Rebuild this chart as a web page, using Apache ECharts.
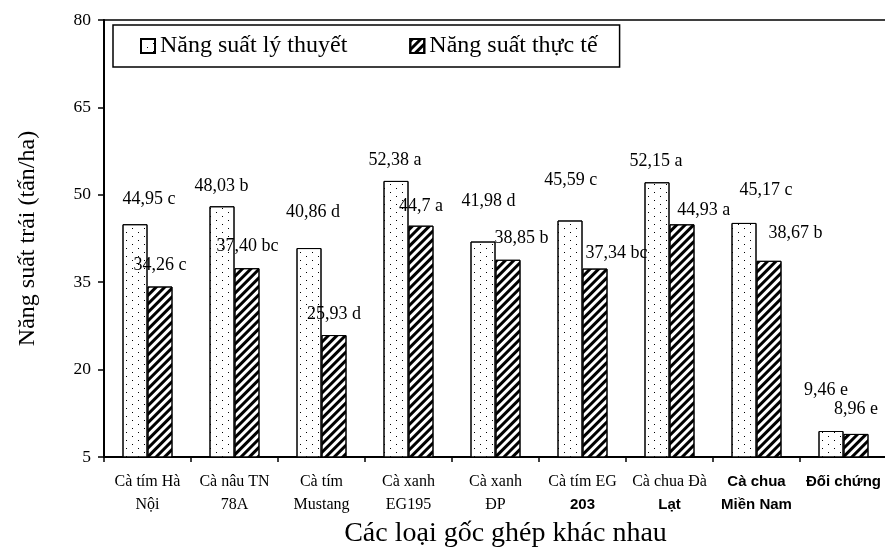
<!DOCTYPE html>
<html><head><meta charset="utf-8">
<script src="https://cdn.jsdelivr.net/npm/echarts@6/dist/echarts.min.js"></script>
<style>html,body{margin:0;padding:0;background:#fff}#c{width:885px;height:551px}</style>
</head><body><div id="c"></div>
<script>
// ---------- data ----------
const categories = ['Cà tím Hà\nNội', 'Cà nâu TN\n78A', 'Cà tím\nMustang', 'Cà xanh\nEG195', 'Cà xanh\nĐP', 'Cà tím EG\n203', 'Cà chua Đà\nLạt', 'Cà chua\nMiền Nam', 'Đối chứng'];
const boldLines = [[], [], [], [], [], [1], [1], [0, 1], [0]];
const seriesNames = ['Năng suất lý thuyết', 'Năng suất thực tế'];
const theoretical = [44.95, 48.03, 40.86, 52.38, 41.98, 45.59, 52.15, 45.17, 9.46];
const actual = [34.26, 37.40, 25.93, 44.7, 38.85, 37.34, 44.93, 38.67, 8.96];
const theoreticalLabels = ['44,95 c', '48,03 b', '40,86 d', '52,38 a', '41,98 d', '45,59 c', '52,15 a', '45,17 c', '9,46 e'];
const actualLabels = ['34,26 c', '37,40 bc', '25,93 d', '44,7 a', '38,85 b', '37,34 bc', '44,93 a', '38,67 b', '8,96 e'];
const yTicks = [5, 20, 35, 50, 65, 80];
const yAxisTitle = 'Năng suất trái (tấn/ha)';
const xAxisTitle = 'Các loại gốc ghép khác nhau';

// ---------- styling (label offsets relative to bar top, as placed in original) ----------
const theoreticalLabelOffsets = [[14, -16], [-0.5, -11], [4, -27], [-1, -12], [5.5, -31.5], [0.7, -31.5], [-1, -12], [22, -24], [-5, -32]];
const actualLabelOffsets = [[0, -12.5], [0.5, -12.7], [0, -11.5], [0, -10.7], [13.5, -12.8], [21.5, -6.6], [21.7, -5.3], [26.5, -18.8], [0, -16]];

const SERIF = 'Liberation Serif';
const SANS = 'Liberation Sans';

const dotDecal = {
  symbol: 'rect', symbolSize: 1, color: '#000',
  dashArrayX: [[1, 11], [0, 6, 1, 5]], dashArrayY: [1, 3], rotation: 0
};
const stripeDecal = {
  symbol: 'rect', symbolSize: 1, color: '#000',
  dashArrayX: [1, 0], dashArrayY: [2.2, 2.3], rotation: -Math.PI / 4
};

function makeData(values, labels, offsets) {
  return values.map((v, i) => ({
    value: v,
    label: { formatter: labels[i], offset: offsets[i] }
  }));
}

const labelStyle = {
  show: true, position: 'top', distance: 0,
  color: '#000', fontFamily: SERIF, fontSize: 18, lineHeight: 18
};

const chart = echarts.init(document.getElementById('c'), null, { renderer: 'canvas' });
chart.setOption({
  animation: false,
  backgroundColor: '#fff',
  grid: {
    left: 104, top: 20, right: -2, bottom: 94,
    show: true, borderColor: '#000', borderWidth: 1.5,
    containLabel: false, outerBoundsMode: 'none'
  },
  legend: {
    left: 113, top: 25,
    padding: [9, 22, 9, 27],
    itemGap: 62, itemWidth: 14, itemHeight: 14,
    borderColor: '#000', borderWidth: 1.5,
    icon: 'rect',
    textStyle: { fontSize: 24, fontFamily: SERIF, color: '#000' },
    data: seriesNames
  },
  xAxis: {
    type: 'category',
    data: categories,
    axisLine: { show: true, lineStyle: { color: '#000', width: 2 } },
    axisTick: { show: true, length: 5, lineStyle: { color: '#000', width: 1.5 } },
    splitLine: { show: false },
    axisLabel: {
      interval: 0, margin: 13, color: '#000',
      formatter: function (val, idx) {
        const lines = val.split('\n');
        return lines.map((l, k) => (boldLines[idx].indexOf(k) >= 0 ? '{b|' + l + '}' : '{n|' + l + '}')).join('\n');
      },
      rich: {
        n: { fontFamily: SERIF, fontSize: 16, lineHeight: 23, color: '#000' },
        b: { fontFamily: SANS, fontSize: 15, fontWeight: 'bold', lineHeight: 23, color: '#000' }
      }
    },
    name: xAxisTitle,
    nameLocation: 'middle',
    nameGap: 63,
    nameMoveOverlap: false,
    nameTextStyle: { fontSize: 28, fontFamily: SERIF, color: '#000', padding: [0, 0, 0, 20] }
  },
  yAxis: {
    type: 'value',
    min: 5, max: 80,
    splitLine: { show: false },
    axisLine: { show: true, lineStyle: { color: '#000', width: 2 } },
    axisTick: { show: true, length: 6, customValues: yTicks, lineStyle: { color: '#000', width: 1.5 } },
    axisLabel: { customValues: yTicks, margin: 13, color: '#000', fontSize: 17.5, fontFamily: SERIF },
    name: yAxisTitle,
    nameLocation: 'middle',
    nameGap: 64,
    nameMoveOverlap: false,
    nameTextStyle: { fontSize: 24, fontFamily: SERIF, color: '#000' }
  },
  series: [
    {
      name: seriesNames[0], type: 'bar', barWidth: 25, barGap: '0%',
      itemStyle: { color: '#fff', borderColor: '#000', borderWidth: 1, decal: dotDecal },
      label: labelStyle,
      data: makeData(theoretical, theoreticalLabels, theoreticalLabelOffsets)
    },
    {
      name: seriesNames[1], type: 'bar', barWidth: 25, barGap: '0%',
      itemStyle: { color: '#fff', borderColor: '#000', borderWidth: 1, decal: stripeDecal },
      label: labelStyle,
      data: makeData(actual, actualLabels, actualLabelOffsets)
    }
  ]
});
</script></body></html>
